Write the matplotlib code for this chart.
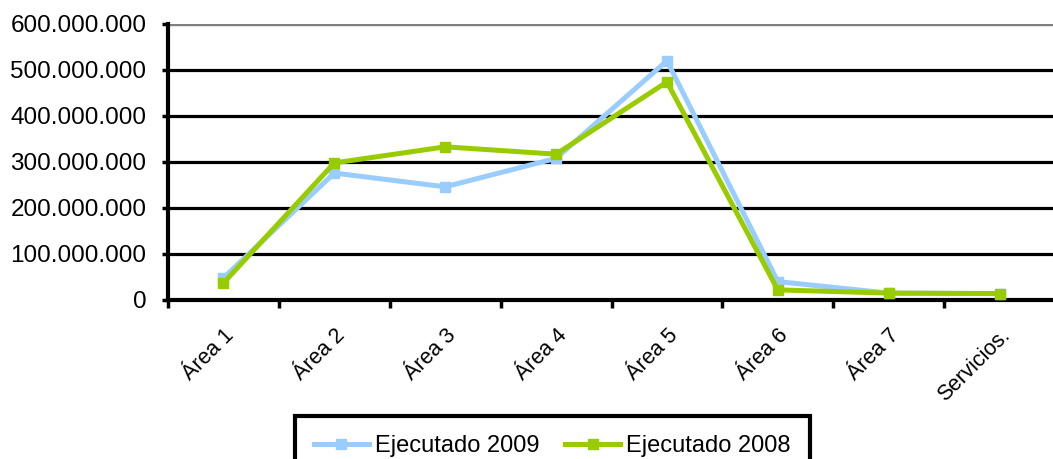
import matplotlib
matplotlib.use("Agg")
import matplotlib.pyplot as plt
from matplotlib.ticker import FuncFormatter, MultipleLocator

plt.rcParams['font.family'] = ['Liberation Sans', 'DejaVu Sans']

categories = ["Área 1", "Área 2", "Área 3", "Área 4", "Área 5", "Área 6", "Área 7", "Servicios."]
ejecutado_2009 = [48e6, 276e6, 246e6, 308e6, 520e6, 40e6, 15e6, 14e6]
ejecutado_2008 = [37e6, 298e6, 333e6, 317e6, 474e6, 22e6, 15e6, 14e6]

W, H = 1053, 459
fig = plt.figure(figsize=(W / 100, H / 100), dpi=100)
ax = fig.add_axes([168 / W, 1 - 300 / H, 887 / W, 276 / H])

x = list(range(len(categories)))
ax.plot(x, ejecutado_2009, color="#99CCFF", lw=3.6, marker="s", ms=7.5,
        mfc="#99CCFF", mec="#99CCFF", label="Ejecutado 2009", zorder=3, clip_on=False)
ax.plot(x, ejecutado_2008, color="#99CC00", lw=3.6, marker="s", ms=7.5,
        mfc="#99CC00", mec="#99CC00", label="Ejecutado 2008", zorder=4, clip_on=False)

ax.set_xlim(-0.5, len(categories) - 0.5)
ax.set_ylim(0, 600e6)
ax.yaxis.set_major_locator(MultipleLocator(100e6))
ax.yaxis.set_major_formatter(FuncFormatter(lambda v, p: "0" if v == 0 else f"{int(v):,}".replace(",", ".")))

ax.grid(axis="y", color="black", lw=2.3, zorder=1)
ax.set_axisbelow(True)
for s in ["top", "right"]:
    ax.spines[s].set_visible(False)
ax.spines["left"].set_linewidth(3)
ax.spines["bottom"].set_linewidth(3)
ax.axhline(600e6, color="#808080", lw=2.2, zorder=2)

ax.set_xticks([i - 0.5 for i in range(len(categories) + 1)], minor=False)
ax.set_xticklabels([])
ax.set_xticks(x, minor=True)
ax.set_xticklabels(categories, minor=True, rotation=45, ha="right", va="top",
                   rotation_mode="anchor", fontsize=15.5)
ax.tick_params(axis="x", which="major", length=6, width=2.5, direction="out")
ax.tick_params(axis="x", which="minor", length=0, pad=18)
ax.tick_params(axis="y", length=4.5, width=2.5, labelsize=17.5, pad=11)

leg = fig.legend(loc="upper left", bbox_to_anchor=(295 / W, 1 - 416 / H), ncol=2,
                 fontsize=17, frameon=True, fancybox=False, framealpha=1,
                 handlelength=2.33, handletextpad=0.25, columnspacing=1.1,
                 borderpad=0.8, borderaxespad=0, markerscale=0.9)
leg.get_frame().set_edgecolor("black")
leg.get_frame().set_linewidth(3)

fig.savefig("out.png", dpi=100)
